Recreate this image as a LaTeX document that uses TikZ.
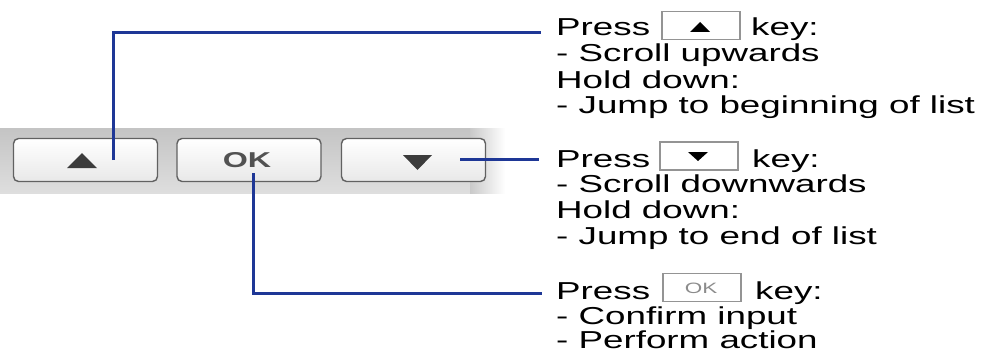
\documentclass[tikz,border=0pt]{standalone}
\usepackage{fontspec}
\setmainfont[FakeStretch=1.5]{Liberation Sans}
\newfontfamily\okfont[FakeStretch=1.5]{Liberation Sans}
\definecolor{leader}{RGB}{30,55,150}
\definecolor{bandtop}{RGB}{196,196,196}
\definecolor{bandbot}{RGB}{222,222,222}
\definecolor{glyph}{RGB}{60,60,60}
\tikzset{
  txt/.style={anchor=base west, inner sep=0pt, text=black,
              font=\fontsize{24.5}{25.7}\selectfont},
  button/.style={draw=black!62, line width=1.4pt, rounded corners=5pt,
                 top color=white, bottom color=black!9,
                 minimum width=144pt, minimum height=43pt, inner sep=0pt},
  keybox/.style={draw=black!42, line width=1.1pt, fill=white,
                 minimum width=78pt, minimum height=28pt, inner sep=0pt},
  leaderline/.style={draw=leader, line width=3pt},
}
\begin{document}
\begin{tikzpicture}[x=1pt, y=-1pt]
\useasboundingbox (0,0) rectangle (995,353);

% grey strip behind the keys
\shade[top color=bandtop, bottom color=bandbot] (0,128) rectangle (470,193);
\shade[left color=bandtop!80!bandbot, right color=white] (470,128) rectangle (505,193);

% the three keys
\node[button] (upkey) at (85.5,160) {};
\node[button] (okkey) at (249,160) {};
\node[button] (dnkey) at (413.5,160) {};
\fill[glyph] (67,168) -- (97,168) -- (82,153) -- cycle;
\node[inner sep=0pt, text=black!68, font=\okfont\bfseries\fontsize{21.5}{21.5}\selectfont]
  (oklabel) at (247,160.5) {OK};
\fill[glyph] (403,155) -- (432,155) -- (417.5,170) -- cycle;

% leader lines
\coordinate (upFoot) at (113,160);
\coordinate (upEnd)  at (541,33);
\coordinate (dnFoot) at (460,159);
\coordinate (dnEnd)  at (539,159);
\coordinate (okFoot) at (253,173);
\coordinate (okEnd)  at (542,293);
\draw[leaderline] (upFoot) |- (upEnd);
\draw[leaderline] (dnFoot) -- (dnEnd);
\draw[leaderline] (okFoot) |- (okEnd);

% description of the up key
\node[txt] (p1) at (556,36) {Press};
\node[keybox] (k1) at (701,25.5) {};
\fill[black] (690,32) -- (710,32) -- (700,22) -- cycle;
\node[txt] (p1k) at (751,36) {key:};
\node[txt] (p1a) at (556,62) {- Scroll upwards};
\node[txt] (p1b) at (556,88) {Hold down:};
\node[txt] (p1c) at (556,113) {- Jump to beginning of list};

% description of the down key
\node[txt] (p2) at (556,167) {Press};
\node[keybox] (k2) at (699,156) {};
\fill[black] (688,152) -- (708,152) -- (698,161) -- cycle;
\node[txt] (p2k) at (752,167) {key:};
\node[txt] (p2a) at (556,192) {- Scroll downwards};
\node[txt] (p2b) at (556,218) {Hold down:};
\node[txt] (p2c) at (556,244) {- Jump to end of list};

% description of the OK key
\node[txt] (p3) at (556,299) {Press};
\node[keybox] (k3) at (702,287.5) {};
\node[inner sep=0pt, text=black!45, font=\fontsize{15}{15}\selectfont] (k3label) at (701,288) {OK};
\node[txt] (p3k) at (755,299) {key:};
\node[txt] (p3a) at (556,324) {- Confirm input};
\node[txt] (p3b) at (556,348.5) {- Perform action};
\end{tikzpicture}
\end{document}
